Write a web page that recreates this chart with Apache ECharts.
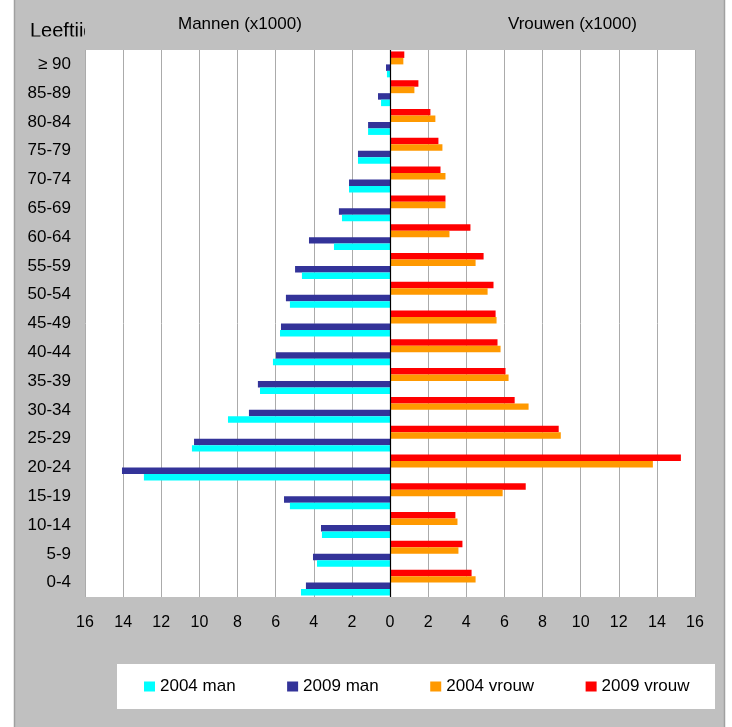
<!DOCTYPE html>
<html>
<head>
<meta charset="utf-8">
<script src="https://cdn.jsdelivr.net/npm/echarts@6/dist/echarts.min.js"></script>
<style>
html,body{margin:0;padding:0;background:#fff;}
#c{width:732px;height:727px;}
</style>
</head>
<body>
<div id="c"></div>
<script>
var categories = ['0-4','5-9','10-14','15-19','20-24','25-29','30-34','35-39','40-44','45-49','50-54','55-59','60-64','65-69','70-74','75-79','80-84','85-89','≥ 90'];
var man2004   = [4.67, 3.83, 3.57, 5.25, 12.91, 10.39, 8.50, 6.82, 6.14, 5.77, 5.25, 4.62, 2.94, 2.52, 2.15, 1.68, 1.15, 0.47, 0.16];
var man2009   = [4.41, 4.04, 3.62, 5.56, 14.06, 10.28, 7.40, 6.93, 5.98, 5.72, 5.46, 4.98, 4.25, 2.68, 2.15, 1.68, 1.15, 0.63, 0.21];
var vrouw2004 = [4.49, 3.59, 3.54, 5.91, 13.79, 8.96, 7.27, 6.22, 5.80, 5.59, 5.12, 4.49, 3.12, 2.91, 2.91, 2.75, 2.38, 1.28, 0.70];
var vrouw2009 = [4.28, 3.80, 3.43, 7.12, 15.26, 8.85, 6.54, 6.06, 5.64, 5.54, 5.43, 4.91, 4.22, 2.91, 2.65, 2.54, 2.12, 1.49, 0.75];
var seriesNames = ['2004 man','2009 man','2004 vrouw','2009 vrouw'];
var font = 'Liberation Sans';

var chart = echarts.init(document.getElementById('c'), null, {renderer:'canvas'});
function neg(a){ return a.map(function(v){ return -v; }); }
function bar(name, data, color, extra){
  var s = {name:name, type:'bar', data:data, barGap:'0%', barCategoryGap:'10%',
    itemStyle:{color:color}, animation:false};
  if (extra) for (var k in extra) s[k]=extra[k];
  return s;
}
chart.setOption({
  animation:false,
  backgroundColor:'transparent',
  graphic:[
    {type:'rect', z:-10, shape:{x:14.5, y:-2, width:710, height:732}, style:{fill:'#c0c0c0', stroke:'#a0a0a0', lineWidth:1.5}},
    {type:'rect', z:-5, shape:{x:117, y:664, width:598, height:45}, style:{fill:'#ffffff'}},
    {type:'text', z:10, left:30, top:21, style:{text:'Leeftijd', font:'20px "Liberation Sans"', fill:'#000'}},
    {type:'rect', z:11, shape:{x:16, y:36.5, width:69, height:13}, style:{fill:'#c0c0c0'}},
    {type:'rect', z:11, shape:{x:85, y:15, width:60, height:34.5}, style:{fill:'#c0c0c0'}},
    {type:'text', z:10, left:178, top:16, style:{text:'Mannen (x1000)', font:'17px "Liberation Sans"', fill:'#000'}},
    {type:'text', z:10, left:508, top:16, style:{text:'Vrouwen (x1000)', font:'17px "Liberation Sans"', fill:'#000'}}
  ],
  legend:{
    data:seriesNames, left:144, top:678, itemWidth:11, itemHeight:10, itemGap:51.5,
    icon:'rect', textStyle:{fontFamily:font, fontSize:17, color:'#000'}, padding:0
  },
  grid:{left:85, right:37, top:50, bottom:130, show:true, backgroundColor:'#ffffff', borderWidth:0},
  xAxis:{
    type:'value', min:-16, max:16, interval:2,
    axisLine:{show:false}, axisTick:{show:false},
    splitLine:{lineStyle:{color:'#ababab', width:1}},
    axisLabel:{formatter:function(v){return Math.abs(v);}, fontFamily:font, fontSize:16, color:'#000', margin:18}
  },
  yAxis:{
    type:'category', data:categories,
    axisLine:{show:false}, axisTick:{show:false},
    axisLabel:{fontFamily:font, fontSize:17, color:'#000', margin:14}
  },
  series:[
    bar('2009 vrouw', vrouw2009, '#ff0000'),
    bar('2004 vrouw', vrouw2004, '#ff9900'),
    bar('2009 man', neg(man2009), '#333399'),
    bar('2004 man', neg(man2004), '#00ffff', {
      markLine:{silent:true, symbol:'none', label:{show:false},
        lineStyle:{color:'#000', width:1.2, type:'solid'}, data:[{xAxis:0}]}
    })
  ]
});
</script>
</body>
</html>
